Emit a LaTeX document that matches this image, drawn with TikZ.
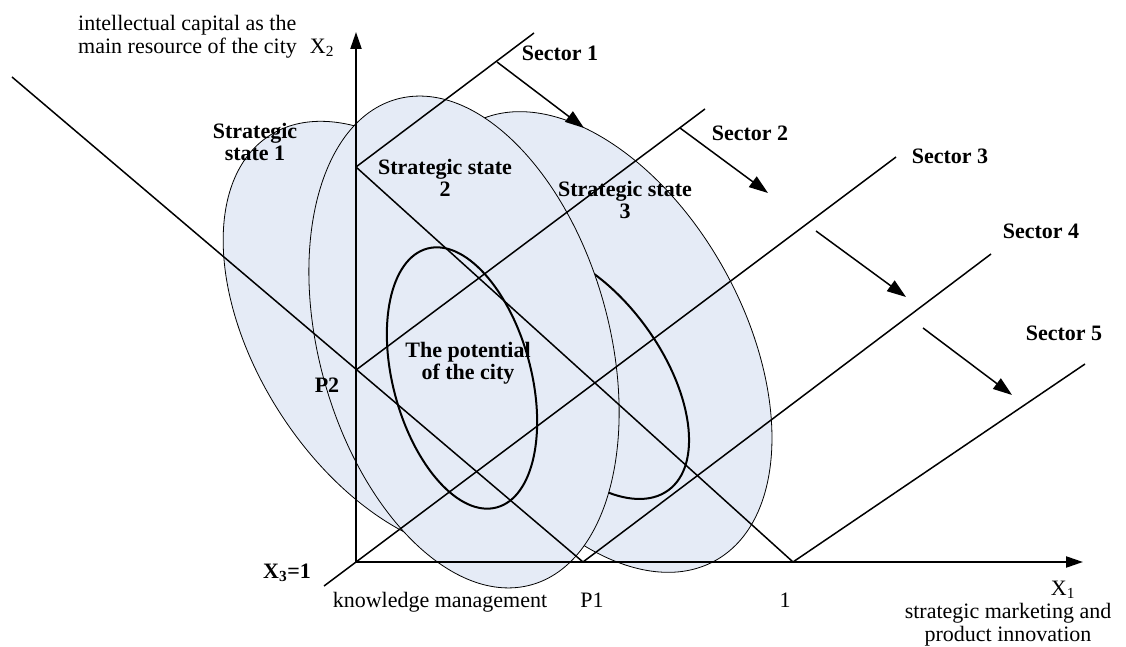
\documentclass[tikz,border=0pt]{standalone}
\usepackage{fontspec}
\setmainfont{Liberation Serif}
\usetikzlibrary{arrows.meta}
\definecolor{statefill}{RGB}{229,235,246}

\begin{document}
\begin{tikzpicture}[x=1pt,y=1pt,font=\fontsize{22}{23}\selectfont,
  every node/.style={inner sep=0pt},
  state/.style={fill=statefill,draw=black,line width=0.8pt},
  core/.style={draw=black,line width=2pt},
  ray/.style={line width=1.5pt},
  axis/.style={line width=2.2pt,-{Triangle[length=17pt,width=11pt]}},
  move/.style={line width=1.5pt,-{Triangle[length=19pt,width=13pt]}},
  lbl/.style={font=\fontsize{22}{22}\selectfont\bfseries,align=center}]
\useasboundingbox (0,0) rectangle (1126,647);
% strategic states (state 2 lies on top)
\draw[state,rotate around={33:(400,310)}] (400,310) ellipse [x radius=142,y radius=240];
\draw[state,rotate around={29:(594,305)}] (594,305) ellipse [x radius=149,y radius=250];
\draw[core,rotate around={36:(583,274)}] (583,274) ellipse [x radius=78,y radius=145];
\draw[state,rotate around={15.5:(464,305)}] (464,305) ellipse [x radius=145,y radius=252];
\draw[core,rotate around={15:(462,269)}] (462,269) ellipse [x radius=69,y radius=134];
% key points
\coordinate (O) at (356,85);
\coordinate (P1) at (583,85);
\coordinate (P2) at (356,277);
\coordinate (top) at (356,480);
\coordinate (one) at (793,85);
\coordinate (far) at (12,570);
\coordinate (x1tip) at (1083,85);
\coordinate (x2tip) at (356,615);
\coordinate (x3end) at (324,61);
\foreach \n/\x/\y in {s1/534/614,s2/705/538,s3/896/490,s4/991/393,s5/1085/283}
  {\coordinate (\n) at (\x,\y);}
% isolines and sectors
\draw[ray] (far) -- (P1);
\draw[ray] (top) -- (one);
\foreach \a/\b in {top/s1,P2/s2,O/s3,P1/s4,one/s5} {\draw[ray] (\a) -- (\b);}
% axes
\draw[axis] (O) -- (x1tip);
\draw[axis] (O) -- (x2tip);
\draw[ray] (O) -- (x3end);
% shifts between sectors
\foreach \i/\x/\y/\u/\v in {1/497/585/584/519,2/680/519/768/454,3/816/416/906/350,4/923/319/1012/252}
  {\coordinate (m\i) at (\x,\y); \coordinate (n\i) at (\u,\v); \draw[move] (m\i) -- (n\i);}
% labels
\node[lbl] (st1) at (255,505) {Strategic\\state 1};
\node[lbl] (st2) at (445,469) {Strategic state\\2};
\node[lbl] (st3) at (625,447) {Strategic state\\3};
\node[lbl] (pot) at (468,284) {The potential\\of the city};
\node[lbl] (p2) at (327,262) {P2};
\node[lbl] (x3) at (287,74) {X\textsubscript{3}=1};
\foreach \i/\x/\y in {1/560/594,2/750/514,3/950/491,4/1041/416,5/1064/314}
  {\node[lbl] (sec\i) at (\x,\y) {Sector \i};}
\node (km) at (440,45) {knowledge management};
\node (p1) at (592,47) {P1};
\node (n1) at (785,47) {1};
\node (x1) at (1063,57) {X\textsubscript{1}};
\node[align=center] (mk) at (1008,22) {strategic marketing and\\product innovation};
\node[align=left,anchor=west] (ic) at (78,610) {intellectual capital as the\\main resource of the city};
\node (x2) at (322,599) {X\textsubscript{2}};
\end{tikzpicture}
\end{document}
